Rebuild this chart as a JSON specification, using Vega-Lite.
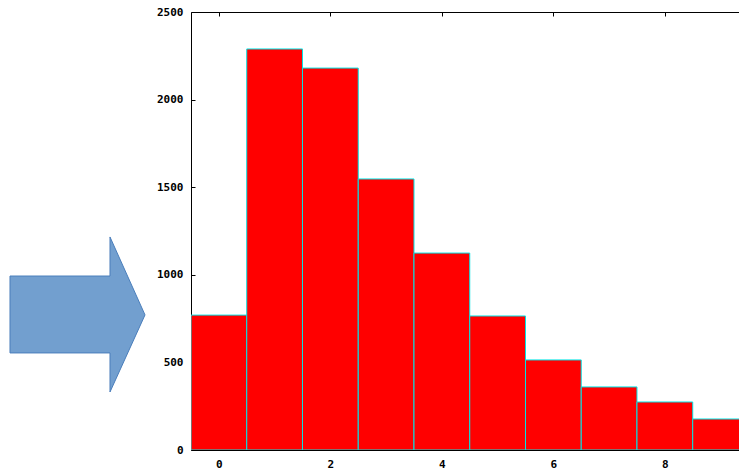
{
  "$schema": "https://vega.github.io/schema/vega-lite/v6.json",
  "width": 548,
  "height": 438,
  "autosize": {"type": "none"},
  "padding": {"left": 191, "top": 12, "right": 0, "bottom": 20},
  "config": {
    "view": {"stroke": null},
    "axis": {
      "labelFont": "DejaVu Sans Mono",
      "labelFontSize": 11,
      "labelFontWeight": "bold",
      "labelColor": "black",
      "domainColor": "black",
      "domainWidth": 1,
      "tickColor": "black",
      "grid": false,
      "title": null
    }
  },
  "resolve": {"axis": {"x": "independent", "y": "independent"}},
  "layer": [
    {
      "data": {
        "values": [
          {"bin": 0, "lo": -0.5, "hi": 0.5, "count": 770},
          {"bin": 1, "lo": 0.5, "hi": 1.5, "count": 2289},
          {"bin": 2, "lo": 1.5, "hi": 2.5, "count": 2180},
          {"bin": 3, "lo": 2.5, "hi": 3.5, "count": 1547},
          {"bin": 4, "lo": 3.5, "hi": 4.5, "count": 1124},
          {"bin": 5, "lo": 4.5, "hi": 5.5, "count": 765},
          {"bin": 6, "lo": 5.5, "hi": 6.5, "count": 514},
          {"bin": 7, "lo": 6.5, "hi": 7.5, "count": 360},
          {"bin": 8, "lo": 7.5, "hi": 8.5, "count": 274},
          {"bin": 9, "lo": 8.5, "hi": 9.5, "count": 177}
        ]
      },
      "mark": {"type": "bar", "fill": "#ff0000", "stroke": "#00e5e5", "strokeWidth": 1, "clip": true},
      "encoding": {
        "x": {
          "field": "lo",
          "type": "quantitative",
          "scale": {"domain": [-0.5, 9.33], "nice": false, "zero": false},
          "axis": {"orient": "bottom", "values": [0, 2, 4, 6, 8], "format": "d", "tickSize": -4, "labelPadding": 12, "labelDx": 1.5, "labelFlush": false}
        },
        "x2": {"field": "hi"},
        "y": {
          "field": "count",
          "type": "quantitative",
          "scale": {"domain": [0, 2500], "nice": false},
          "axis": {"values": [0, 500, 1000, 1500, 2000, 2500], "format": "d", "tickSize": -4, "labelPadding": 12, "labelFlush": false}
        },
        "y2": {"datum": 0}
      }
    },
    {
      "data": {
        "values": [
          {"i": 0, "ax": -3.747, "ay": 993},
          {"i": 1, "ax": -1.953, "ay": 993},
          {"i": 2, "ax": -1.953, "ay": 1216},
          {"i": 3, "ax": -1.325, "ay": 771},
          {"i": 4, "ax": -1.953, "ay": 331},
          {"i": 5, "ax": -1.953, "ay": 554},
          {"i": 6, "ax": -3.747, "ay": 554},
          {"i": 7, "ax": -3.747, "ay": 993}
        ]
      },
      "mark": {"type": "line", "fill": "#729fcf", "stroke": "#4a7ebb", "strokeWidth": 1, "clip": false},
      "encoding": {
        "x": {
          "field": "ax",
          "type": "quantitative",
          "axis": {"orient": "top", "values": [0, 2, 4, 6, 8], "tickSize": -4, "labels": false}
        },
        "y": {"field": "ay", "type": "quantitative", "axis": null},
        "order": {"field": "i"}
      }
    }
  ]
}
